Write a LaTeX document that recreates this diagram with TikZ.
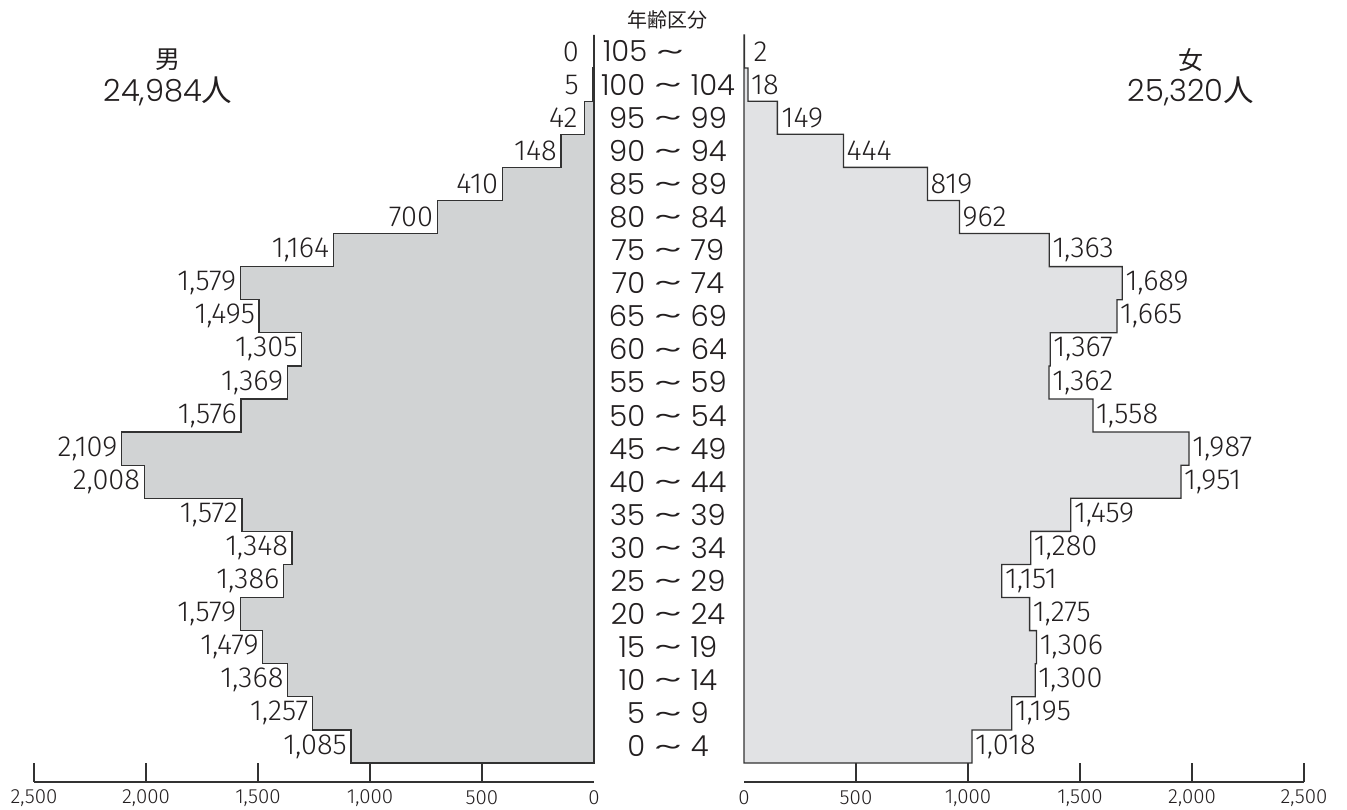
\documentclass[tikz,border=0pt]{standalone}
\usepackage{graphicx}
\usepackage{fontspec}
\setmainfont{Fira Sans Light}
\newfontfamily\cjk{Noto Sans CJK JP}
\newfontfamily\widefont{Poppins Light}
\definecolor{ink}{RGB}{35,31,32}
\definecolor{edge}{RGB}{50,50,50}
\definecolor{mfill}{RGB}{209,211,212}
\definecolor{ffill}{RGB}{225,226,228}
\newcommand\wv{\hspace{0.3em}\raisebox{0.03em}{\scalebox{2.0}[1.0]{\textasciitilde}}\hspace{0.3em}}
\begin{document}
\begin{tikzpicture}[x=1pt,y=-1pt,
  vallab/.style={font=\fontsize{29}{31}\selectfont, text=ink, inner sep=0pt},
  agelab/.style={font=\widefont\fontsize{29}{31}\selectfont, text=ink, inner sep=0pt},
  ticklab/.style={font=\fontsize{20.5}{22}\selectfont, text=ink, inner sep=0pt},
  hdr/.style={font=\widefont\fontsize{30.5}{32}\selectfont, text=ink, inner sep=0pt},
  hdrcjk/.style={font=\cjk\fontsize{25}{27}\selectfont, text=ink, inner sep=0pt},
  bars/.style={draw=edge, line width=1.3pt, line join=miter},
  axisline/.style={draw=edge, line width=1.2pt}
]
\useasboundingbox (0,0) rectangle (1347,810);

% ---------- male bars ----------
\gdef\mpath{(594,763)}
\foreach \v [count=\i from 0] in {1085,1257,1368,1479,1579,1386,1348,1572,2008,2109,1576,1369,1305,1495,1579,1164,700,410,148,42,5,0}{
  \pgfmathsetmacro\xx{594-0.224*\v}
  \pgfmathsetmacro\ya{763-33.0909*\i}
  \pgfmathsetmacro\yb{763-33.0909*(\i+1)}
  \xdef\mpath{\mpath -- (\xx,\ya) -- (\xx,\yb)}
}
\edef\tmp{\noexpand\path[bars, fill=mfill] \mpath -- (594,35) -- cycle;}\tmp

% ---------- female bars ----------
\gdef\fpath{(744,763)}
\foreach \v [count=\i from 0] in {1018,1195,1300,1306,1275,1151,1280,1459,1951,1987,1558,1362,1367,1665,1689,1363,962,819,444,149,18,2}{
  \pgfmathsetmacro\xx{744+0.224*\v}
  \pgfmathsetmacro\ya{763-33.0909*\i}
  \pgfmathsetmacro\yb{763-33.0909*(\i+1)}
  \xdef\fpath{\fpath -- (\xx,\ya) -- (\xx,\yb)}
}
\edef\tmp{\noexpand\path[bars, fill=ffill] \fpath -- (744,35) -- cycle;}\tmp

% ---------- value labels (value/text/gap) ----------
\foreach \v/\t/\g [count=\i from 0] in {1085/{1,085}/4,1257/{1,257}/4,1368/{1,368}/4,1479/{1,479}/4,1579/{1,579}/4,1386/{1,386}/4,1348/{1,348}/4,1572/{1,572}/4,2008/{2,008}/4,2109/{2,109}/4,1576/{1,576}/4,1369/{1,369}/4,1305/{1,305}/4,1495/{1,495}/4,1579/{1,579}/4,1164/{1,164}/4,700/700/4,410/410/4,148/148/4,42/42/7,5/5/14,0/0/15}{
  \pgfmathsetmacro\xx{594-0.224*\v-\g}
  \pgfmathsetmacro\ym{763-33.0909*(\i+0.5)}
  \node[vallab, anchor=east] (m\i) at (\xx,\ym) {\t};
}
\foreach \v/\t/\g [count=\i from 0] in {1018/{1,018}/3,1195/{1,195}/3,1300/{1,300}/3,1306/{1,306}/3,1275/{1,275}/3,1151/{1,151}/3,1280/{1,280}/3,1459/{1,459}/3,1951/{1,951}/3,1987/{1,987}/3,1558/{1,558}/3,1362/{1,362}/3,1367/{1,367}/3,1665/{1,665}/3,1689/{1,689}/3,1363/{1,363}/3,962/962/3,819/819/3,444/444/3,149/149/4,18/18/3,2/2/9}{
  \pgfmathsetmacro\xx{744+0.224*\v+\g}
  \pgfmathsetmacro\ym{763-33.0909*(\i+0.5)}
  \node[vallab, anchor=west] (f\i) at (\xx,\ym) {\t};
}

% ---------- age labels ----------
\foreach \i in {0,...,20}{
  \pgfmathtruncatemacro\lo{5*\i}
  \pgfmathtruncatemacro\hi{5*\i+4}
  \pgfmathsetmacro\ym{763-33.0909*(\i+0.5)}
  \node[agelab] (age\i) at (668,\ym) {\lo\wv\hi};
}
\node[agelab] (age21) at (670,51.5) {105\wv\phantom{104}};
\node[font=\cjk\fontsize{20}{22}\selectfont, text=ink, inner sep=0pt] (title) at (667,20) {年齢区分};

% ---------- headers ----------
\node[hdrcjk] (men) at (168,60) {男};
\node[hdr] (mentot) at (168,91) {24,984{\cjk 人}};
\node[hdrcjk] (women) at (1191,60) {女};
\node[hdr] (womentot) at (1191,91) {25,320{\cjk 人}};

% ---------- axes ----------
\draw[axisline] (34,782) -- (594,782);
\draw[axisline] (744,782) -- (1304,782);
\foreach \k/\t in {0/{2,500},1/{2,000},2/{1,500},3/{1,000},4/500}{
  \pgfmathsetmacro\xx{34+112*\k}
  \draw[axisline] (\xx,763) -- (\xx,782);
  \node[ticklab] (lt\k) at (\xx,798) {\t};
}
\node[ticklab] (lt5) at (594,798) {0};
\node[ticklab] (rt0) at (744,798) {0};
\foreach \k/\t in {1/500,2/{1,000},3/{1,500},4/{2,000},5/{2,500}}{
  \pgfmathsetmacro\xx{744+112*\k}
  \draw[axisline] (\xx,763) -- (\xx,782);
  \node[ticklab] (rt\k) at (\xx,798) {\t};
}
\end{tikzpicture}
\end{document}
